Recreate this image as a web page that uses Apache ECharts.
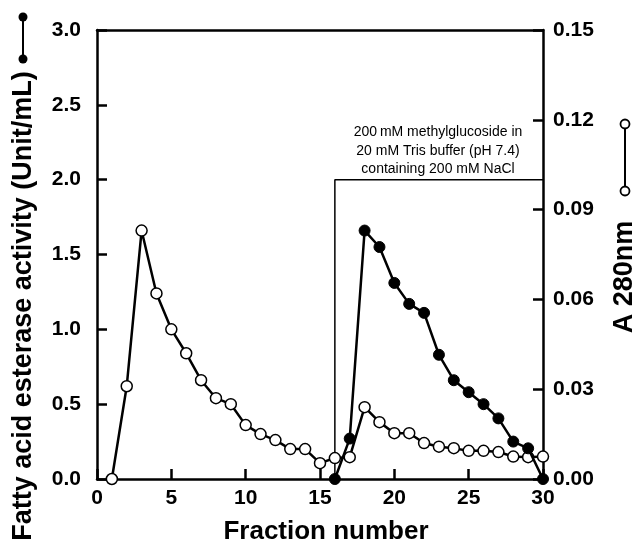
<!DOCTYPE html>
<html>
<head>
<meta charset="utf-8">
<script src="https://cdn.jsdelivr.net/npm/echarts@6/dist/echarts.min.js"></script>
<style>
    html, body { margin: 0; padding: 0; background: #fff; }
    #chart { width: 639px; height: 548px; }
</style>
</head>
<body>
<div id="chart"></div>
<script>
    // fraction numbers for each curve
    var a280Fractions = [1, 2, 3, 4, 5, 6, 7, 8, 9, 10, 11, 12, 13, 14, 15,
        16, 17, 18, 19, 20, 21, 22, 23, 24, 25, 26, 27, 28, 29, 30];
    // A 280nm (open circles, right axis)
    var a280Values = [0.000, 0.031, 0.083, 0.062, 0.050, 0.042, 0.033, 0.027, 0.025, 0.018,
        0.015, 0.013, 0.010, 0.010, 0.0053, 0.0070, 0.0073, 0.024, 0.019, 0.0153,
        0.0153, 0.012, 0.0108, 0.0103, 0.0094, 0.0094, 0.0090, 0.0075, 0.0073, 0.0075];

    var esteraseFractions = [16, 17, 18, 19, 20, 21, 22, 23, 24, 25, 26, 27, 28, 29, 30];
    // fatty acid esterase activity, Unit/mL (filled circles, left axis)
    var esteraseValues = [0, 0.27, 1.66, 1.55, 1.31, 1.17, 1.11, 0.83, 0.66, 0.58,
        0.50, 0.405, 0.25, 0.205, 0];

    // elution step outline: fraction, activity
    var boxOutline = [[16, 0], [16, 2.0], [30, 2.0]];

    var xTicks = [0, 5, 10, 15, 20, 25, 30];
    var leftTicks = [0, 0.5, 1.0, 1.5, 2.0, 2.5, 3.0];
    var rightTicks = [0, 0.03, 0.06, 0.09, 0.12, 0.15];

    var noteLines = ['200\u2009mM methylglucoside in', '20 mM Tris buffer (pH 7.4)', 'containing 200 mM NaCl'];

    var font = "'Liberation Sans', Arial, Helvetica, sans-serif";

    function pairs(xs, ys) {
        return xs.map(function (x, i) { return [x, ys[i]]; });
    }

    var tickLabel = {
        color: '#000',
        fontFamily: font,
        fontWeight: 'bold',
        fontSize: 21
    };
    var frameLine = {show: true, onZero: false, lineStyle: {color: '#000', width: 2.5}};
    var inTick = {show: true, inside: true, length: 10, lineStyle: {color: '#000', width: 2.5}};

    var option = {
        animation: false,
        backgroundColor: '#fff',
        grid: {left: 97, right: 96, top: 30, bottom: 69},
        xAxis: [
            {
                type: 'value',
                min: xTicks[0],
                max: xTicks[xTicks.length - 1],
                interval: 5,
                axisLine: frameLine,
                axisTick: inTick,
                axisLabel: Object.assign({margin: 9}, tickLabel),
                splitLine: {show: false}
            },
            {
                // top frame line
                type: 'value',
                position: 'top',
                min: xTicks[0],
                max: xTicks[xTicks.length - 1],
                axisLine: frameLine,
                axisTick: {show: false},
                axisLabel: {show: false},
                splitLine: {show: false}
            }
        ],
        yAxis: [
            {
                type: 'value',
                position: 'left',
                min: leftTicks[0],
                max: leftTicks[leftTicks.length - 1],
                interval: 0.5,
                axisLine: frameLine,
                axisTick: inTick,
                axisLabel: Object.assign({
                    margin: 16,
                    formatter: function (v) { return v.toFixed(1); }
                }, tickLabel),
                splitLine: {show: false}
            },
            {
                type: 'value',
                position: 'right',
                min: rightTicks[0],
                max: rightTicks[rightTicks.length - 1],
                interval: 0.03,
                axisLine: frameLine,
                axisTick: inTick,
                axisLabel: Object.assign({
                    margin: 10,
                    formatter: function (v) { return v.toFixed(2); }
                }, tickLabel),
                splitLine: {show: false}
            }
        ],
        graphic: [
            {
                type: 'text',
                x: 24, y: 306,
                rotation: Math.PI / 2,
                style: {
                    text: 'Fatty acid esterase activity (Unit/mL)',
                    font: 'bold 27px ' + font,
                    fill: '#000',
                    align: 'center',
                    verticalAlign: 'middle'
                }
            },
            {type: 'line', shape: {x1: 23, y1: 17, x2: 23, y2: 59}, style: {stroke: '#000', lineWidth: 2}},
            {type: 'circle', shape: {cx: 23, cy: 17, r: 4.5}, style: {fill: '#000'}},
            {type: 'circle', shape: {cx: 23, cy: 59, r: 4.5}, style: {fill: '#000'}},
            {
                type: 'text',
                x: 625, y: 277,
                rotation: Math.PI / 2,
                style: {
                    text: 'A 280nm',
                    font: 'bold 27px ' + font,
                    fill: '#000',
                    align: 'center',
                    verticalAlign: 'middle'
                }
            },
            {type: 'line', shape: {x1: 625, y1: 129, x2: 625, y2: 186}, style: {stroke: '#000', lineWidth: 2}},
            {type: 'circle', shape: {cx: 625, cy: 124, r: 4.5}, style: {fill: '#fff', stroke: '#000', lineWidth: 1.8}},
            {type: 'circle', shape: {cx: 625, cy: 191, r: 4.5}, style: {fill: '#fff', stroke: '#000', lineWidth: 1.8}},
            {
                type: 'text',
                x: 326, y: 532,
                style: {
                    text: 'Fraction number',
                    font: 'bold 26px ' + font,
                    fill: '#000',
                    align: 'center',
                    verticalAlign: 'middle'
                }
            },
            {
                type: 'text',
                x: 438, y: 151,
                style: {
                    text: noteLines.join('\n'),
                    font: '14px ' + font,
                    lineHeight: 18.5,
                    fill: '#000',
                    align: 'center',
                    verticalAlign: 'middle'
                }
            }
        ],
        series: [
            {
                name: 'box',
                type: 'line',
                data: boxOutline,
                symbol: 'none',
                lineStyle: {color: '#000', width: 1.5},
                silent: true,
                z: 1
            },
            {
                name: 'A 280nm',
                type: 'line',
                yAxisIndex: 1,
                data: pairs(a280Fractions, a280Values),
                symbol: 'circle',
                symbolSize: 11,
                clip: false,
                lineStyle: {color: '#000', width: 2.5},
                itemStyle: {color: '#fff', borderColor: '#000', borderWidth: 1.5},
                z: 2
            },
            {
                name: 'esterase',
                type: 'line',
                yAxisIndex: 0,
                data: pairs(esteraseFractions, esteraseValues),
                symbol: 'circle',
                symbolSize: 11,
                clip: false,
                lineStyle: {color: '#000', width: 2.5},
                itemStyle: {color: '#000', borderColor: '#000', borderWidth: 1},
                z: 3
            }
        ]
    };

    var chart = echarts.init(document.getElementById('chart'));
    chart.setOption(option);
</script>
</body>
</html>
